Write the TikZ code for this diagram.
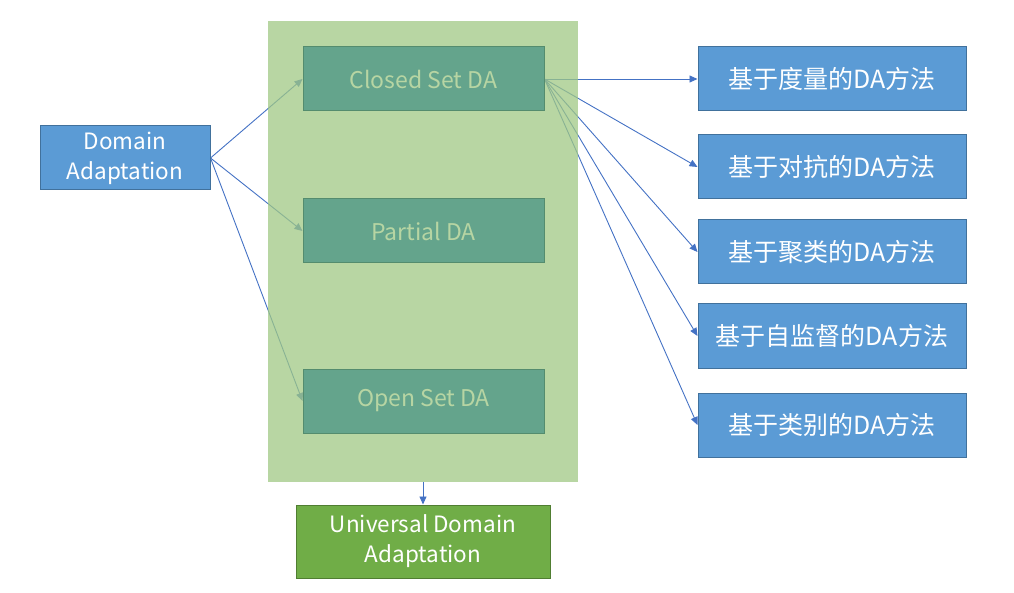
\documentclass[tikz,border=0pt]{standalone}
\usepackage{fontspec}
\setmainfont{Noto Sans CJK SC}
\usetikzlibrary{arrows.meta}
\definecolor{dablue}{HTML}{5B9BD5}
\definecolor{dablueb}{HTML}{41719C}
\definecolor{lineblue}{HTML}{4472C4}
\definecolor{bggreen}{RGB}{160,200,132}
\definecolor{teal}{HTML}{64A48C}
\definecolor{tealb}{HTML}{548C6E}
\definecolor{tealtext}{HTML}{B7D5A3}
\definecolor{udgreen}{HTML}{70AD47}
\definecolor{udgreenb}{HTML}{507E32}
\pgfdeclarelayer{lines}
\pgfdeclarelayer{mid}
\pgfsetlayers{lines,mid,main}
\tikzset{
  bluebox/.style={draw=dablueb, fill=dablue, line width=1pt, text=white, inner sep=0pt, align=center},
  tealbox/.style={draw=tealb, fill=teal, line width=1pt, text=tealtext, inner sep=0pt,
    minimum width=241pt, minimum height=64pt, font=\fontsize{23}{30}\selectfont},
  cnbox/.style={bluebox, minimum width=268pt, minimum height=64pt, font=\fontsize{25}{30}\selectfont},
  conn/.style={draw=lineblue, line width=0.9pt, -{Triangle[length=8pt,width=7pt]}},
}
\begin{document}
\begin{tikzpicture}[x=1pt,y=-1pt]
\useasboundingbox (0,0) rectangle (1014,593);
\begin{pgfonlayer}{mid}
\node[fill=bggreen, fill opacity=0.75, minimum width=310pt, minimum height=461pt, inner sep=0pt] (bgbox) at (423,251.5) {};
\end{pgfonlayer}
\node[bluebox, minimum width=170pt, minimum height=64pt, font=\fontsize{22.5}{30}\selectfont] (da) at (125,158) {Domain\\Adaptation};
\node[tealbox] (closed) at (423.5,79) {Closed Set DA};
\node[tealbox] (partial) at (423.5,231) {Partial DA};
\node[tealbox] (open) at (423.5,401) {Open Set DA};
\node[cnbox] (m1) at (832,79) {基于度量的DA方法};
\node[cnbox] (m2) at (832,167) {基于对抗的DA方法};
\node[cnbox] (m3) at (832,252) {基于聚类的DA方法};
\node[cnbox] (m4) at (832,336) {基于自监督的DA方法};
\node[cnbox] (m5) at (832,425) {基于类别的DA方法};
\node[draw=udgreenb, fill=udgreen, line width=1pt, text=white, inner sep=0pt, align=center,
  minimum width=254pt, minimum height=73pt, font=\fontsize{22.5}{30}\selectfont] (uda) at (423,541.5) {Universal Domain\\Adaptation};
\begin{pgfonlayer}{lines}
\draw[conn] (da.east) -- (closed.west);
\draw[conn] (da.east) -- (partial.west);
\draw[conn] (da.east) -- (open.west);
\draw[conn] (closed.east) -- (m1.west);
\draw[conn] (closed.east) -- (m2.west);
\draw[conn] (closed.east) -- (m3.west);
\draw[conn] (closed.east) -- (m4.west);
\draw[conn] (closed.east) -- (m5.west);
\end{pgfonlayer}
\draw[conn] (bgbox.south) -- (uda.north);
\end{tikzpicture}
\end{document}
